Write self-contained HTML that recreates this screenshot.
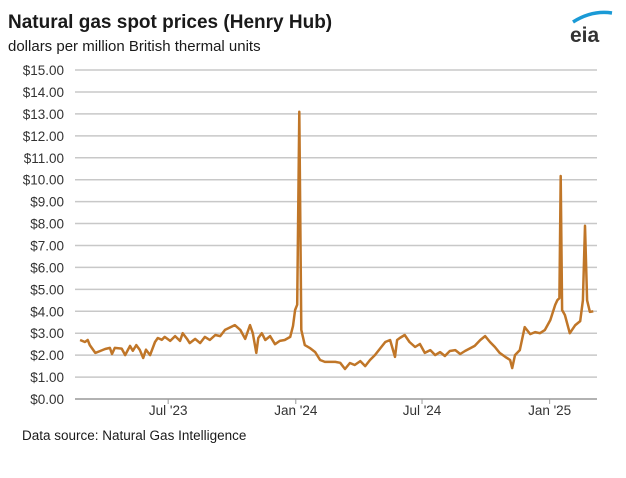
<!DOCTYPE html>
<html><head><meta charset="utf-8">
<style>
body{margin:0;background:#fff;width:626px;height:473px;overflow:hidden;font-family:"Liberation Sans",Arial,sans-serif;}
</style></head>
<body>
<svg id="chart" width="626" height="473" xmlns="http://www.w3.org/2000/svg" font-family="Liberation Sans, Arial, sans-serif">
<text x="8" y="28" font-size="19" font-weight="bold" fill="#1a1a1a">Natural gas spot prices (Henry Hub)</text>
<text x="8" y="51" font-size="15" fill="#1a1a1a">dollars per million British thermal units</text>
<g>
<path d="M573 22 Q592 10 612 13" stroke="#1a9ad6" stroke-width="3.5" fill="none"/>
<text x="570" y="42" font-size="21" font-weight="bold" fill="#333">eia</text>
</g>
<g id="grid"></g>
<g id="yticks"></g>
<g id="xticks"></g>
<path id="series" fill="none" stroke="#c07628" stroke-width="2.5" stroke-linejoin="round"/>
<text x="22" y="440" font-size="13.5" fill="#1a1a1a">Data source: Natural Gas Intelligence</text>
</svg>
<script>
const yTicks=[0,1,2,3,4,5,6,7,8,9,10,11,12,13,14,15];
const xTickLabels=["Jul '23","Jan '24","Jul '24","Jan '25"];
const xTickDays=[130,314,496,680];
const days=[3,10,14,17,25,32,39,46,49,53,63,68,75,79,84,89,94,98,104,111,115,121,125,133,140,147,151,157,161,169,176,183,190,198,205,212,226,234,241,248,252,257,260,265,270,277,284,291,298,306,310,313,316,319,322,327,334,342,349,356,363,371,378,385,392,399,407,414,421,428,443,450,457,460,464,471,478,486,493,500,508,515,522,529,536,544,551,558,572,580,587,594,601,608,616,623,626,630,637,644,652,659,666,673,681,688,691,694,696,698,702,709,717,724,728,731,734,738,743];
const prices=[2.69,2.6,2.69,2.46,2.1,2.19,2.28,2.33,2.05,2.33,2.3,2.0,2.42,2.2,2.46,2.25,1.87,2.25,2.0,2.6,2.78,2.7,2.83,2.65,2.87,2.65,3.0,2.75,2.55,2.74,2.55,2.83,2.69,2.92,2.87,3.15,3.37,3.15,2.74,3.37,3.0,2.1,2.78,3.0,2.69,2.87,2.5,2.65,2.69,2.83,3.33,4.06,4.3,13.1,3.15,2.46,2.33,2.14,1.78,1.69,1.69,1.69,1.65,1.37,1.64,1.55,1.73,1.5,1.78,2.0,2.6,2.69,1.92,2.69,2.78,2.92,2.6,2.37,2.51,2.1,2.23,2.0,2.14,1.96,2.19,2.23,2.05,2.19,2.42,2.69,2.87,2.6,2.37,2.1,1.92,1.78,1.41,2.0,2.23,3.28,2.96,3.05,3.0,3.14,3.6,4.29,4.5,4.6,10.17,4.06,3.83,3.0,3.37,3.55,4.5,7.9,4.5,3.97,4.0];
const X0=78,KX=0.6936,Y0=399,KY=21.93,XL=75,XR=597;
const sx=d=>X0+d*KX, sy=v=>Y0-v*KY;
const NS="http://www.w3.org/2000/svg";
const grid=document.getElementById('grid'),yt=document.getElementById('yticks'),xt=document.getElementById('xticks');
yTicks.forEach(v=>{
 const l=document.createElementNS(NS,'line');
 
 
 l.setAttribute('x1',XL);l.setAttribute('x2',XR);l.setAttribute('y1',sy(v));l.setAttribute('y2',sy(v));
 l.setAttribute('stroke',v===0?'#999':'#c8c8c8');l.setAttribute('stroke-width',1.5);
 grid.appendChild(l);
 const t=document.createElementNS(NS,'text');
 
 
 t.setAttribute('x',64);t.setAttribute('y',sy(v)+5);t.setAttribute('text-anchor','end');t.setAttribute('font-size','13.5');t.setAttribute('fill','#333');
 t.textContent='$'+v.toFixed(2);yt.appendChild(t);
});
xTickLabels.forEach((s,i)=>{
 const x=sx(xTickDays[i]);
 const l=document.createElementNS(NS,'line');
 
 
 l.setAttribute('x1',x);l.setAttribute('x2',x);l.setAttribute('y1',Y0);l.setAttribute('y2',Y0+5);l.setAttribute('stroke','#999');
 xt.appendChild(l);
 const t=document.createElementNS(NS,'text');
 
 
 t.setAttribute('x',x);t.setAttribute('y',415);t.setAttribute('text-anchor','middle');t.setAttribute('font-size','13.5');t.setAttribute('fill','#333');
 t.textContent=s;xt.appendChild(t);
});
document.getElementById('series').setAttribute('d',days.map((d,i)=>(i?'L':'M')+sx(d).toFixed(1)+' '+sy(prices[i]).toFixed(1)).join(' '));
</script>
</body></html>
